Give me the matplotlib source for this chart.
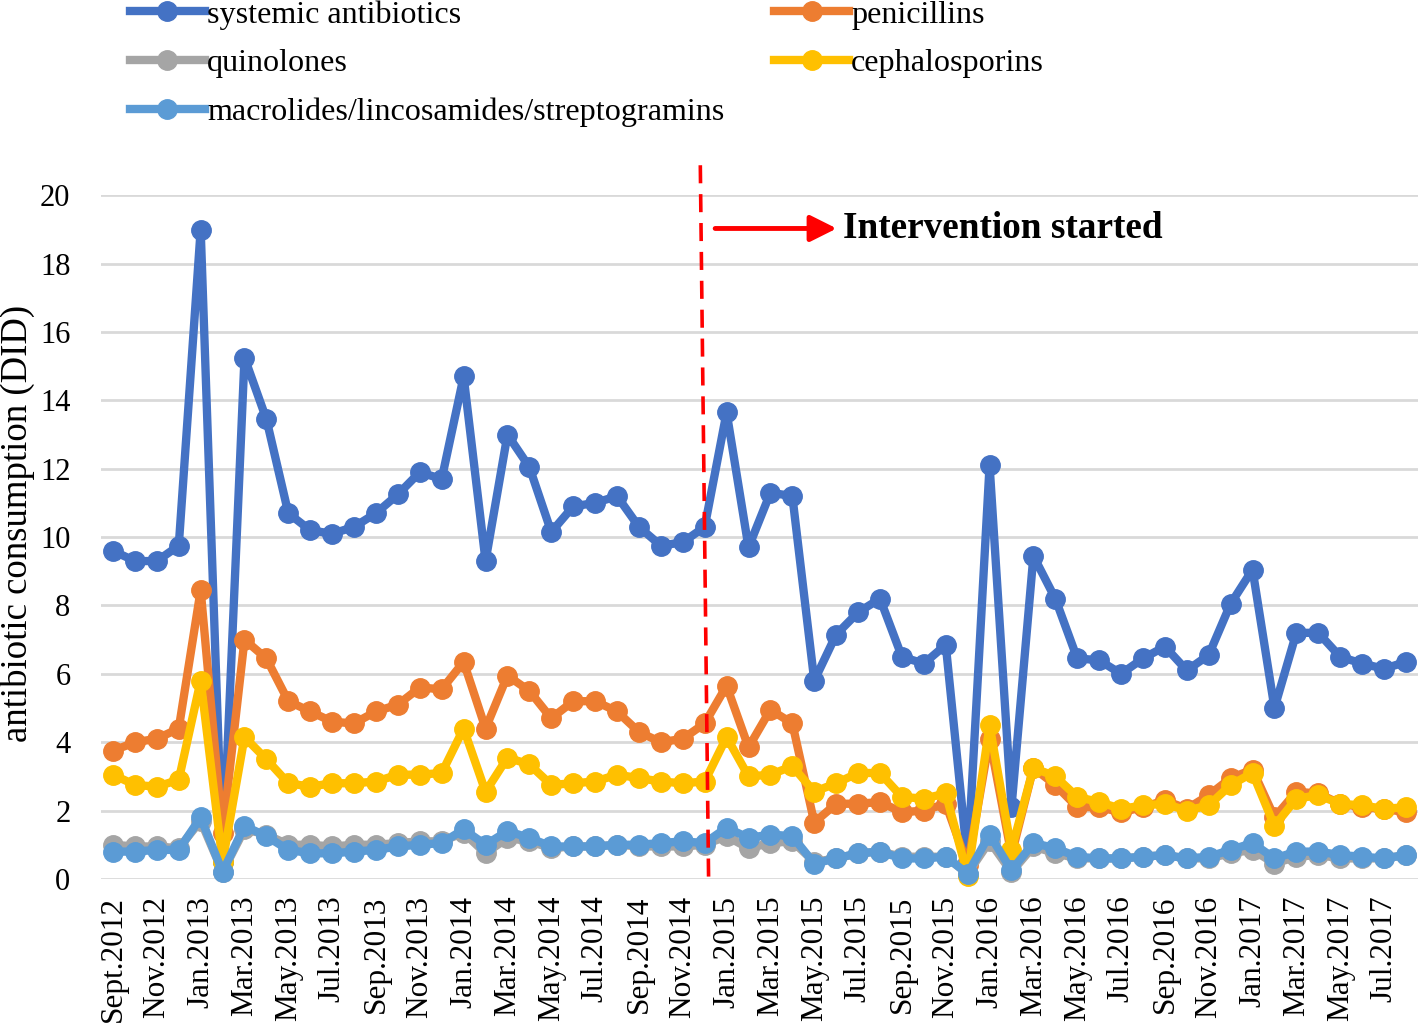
import matplotlib.pyplot as plt
import numpy as np

plt.rcParams['font.family'] = ['Liberation Serif', 'DejaVu Serif']

months = ['Sept.2012', 'Oct.2012', 'Nov.2012', 'Dec.2012',
          'Jan.2013', 'Feb.2013', 'Mar.2013', 'Apr.2013', 'May.2013', 'Jun.2013',
          'Jul.2013', 'Aug.2013', 'Sep.2013', 'Oct.2013', 'Nov.2013', 'Dec.2013',
          'Jan.2014', 'Feb.2014', 'Mar.2014', 'Apr.2014', 'May.2014', 'Jun.2014',
          'Jul.2014', 'Aug.2014', 'Sep.2014', 'Oct.2014', 'Nov.2014', 'Dec.2014',
          'Jan.2015', 'Feb.2015', 'Mar.2015', 'Apr.2015', 'May.2015', 'Jun.2015',
          'Jul.2015', 'Aug.2015', 'Sep.2015', 'Oct.2015', 'Nov.2015', 'Dec.2015',
          'Jan.2016', 'Feb.2016', 'Mar.2016', 'Apr.2016', 'May.2016', 'Jun.2016',
          'Jul.2016', 'Aug.2016', 'Sep.2016', 'Oct.2016', 'Nov.2016', 'Dec.2016',
          'Jan.2017', 'Feb.2017', 'Mar.2017', 'Apr.2017', 'May.2017', 'Jun.2017',
          'Jul.2017', 'Aug.2017']

systemic = [9.6, 9.3, 9.3, 9.75, 19.0, 0.5, 15.25, 13.45, 10.7, 10.2,
            10.1, 10.3, 10.7, 11.25, 11.9, 11.7, 14.7, 9.3, 13.0, 12.05,
            10.15, 10.9, 11.0, 11.2, 10.3, 9.75, 9.85, 10.3, 13.65, 9.7,
            11.3, 11.2, 5.8, 7.15, 7.8, 8.2, 6.5, 6.3, 6.85, 0.5,
            12.1, 2.1, 9.45, 8.2, 6.45, 6.4, 6.0, 6.45, 6.8, 6.1,
            6.55, 8.05, 9.05, 5.0, 7.2, 7.2, 6.5, 6.3, 6.15, 6.35]

penicillins = [3.75, 4.0, 4.1, 4.4, 8.45, 1.35, 7.0, 6.45, 5.2, 4.9,
               4.6, 4.55, 4.9, 5.1, 5.6, 5.55, 6.35, 4.4, 5.95, 5.5,
               4.7, 5.2, 5.2, 4.9, 4.3, 4.0, 4.1, 4.55, 5.65, 3.85,
               4.95, 4.55, 1.65, 2.2, 2.2, 2.25, 1.95, 2.0, 2.2, 0.4,
               4.1, 0.7, 3.25, 2.75, 2.1, 2.1, 1.95, 2.1, 2.3, 2.05,
               2.45, 2.95, 3.2, 1.8, 2.55, 2.5, 2.2, 2.1, 2.05, 1.95]

quinolones = [1.0, 0.95, 0.95, 0.9, 1.7, 0.2, 1.45, 1.3, 1.0, 1.0,
              0.95, 1.0, 1.0, 1.05, 1.1, 1.1, 1.35, 0.75, 1.2, 1.1,
              0.9, 0.95, 0.95, 1.0, 0.95, 0.95, 0.95, 1.0, 1.25, 0.9,
              1.05, 1.1, 0.5, 0.6, 0.75, 0.8, 0.65, 0.65, 0.65, 0.15,
              1.1, 0.2, 0.95, 0.75, 0.6, 0.6, 0.6, 0.65, 0.7, 0.6,
              0.6, 0.75, 0.85, 0.45, 0.65, 0.7, 0.6, 0.6, 0.6, 0.7]

cephalosporins = [3.05, 2.75, 2.7, 2.9, 5.8, 0.5, 4.15, 3.5, 2.8, 2.7,
                  2.8, 2.8, 2.85, 3.05, 3.05, 3.1, 4.4, 2.55, 3.55, 3.35,
                  2.75, 2.8, 2.85, 3.05, 2.95, 2.85, 2.8, 2.85, 4.15, 3.0,
                  3.05, 3.3, 2.55, 2.8, 3.1, 3.1, 2.4, 2.35, 2.5, 0.1,
                  4.5, 0.85, 3.25, 3.0, 2.4, 2.25, 2.05, 2.15, 2.2, 2.0,
                  2.15, 2.75, 3.1, 1.55, 2.35, 2.45, 2.2, 2.15, 2.05, 2.1]

macrolides = [0.8, 0.8, 0.85, 0.85, 1.8, 0.2, 1.55, 1.25, 0.85, 0.75,
              0.75, 0.8, 0.85, 0.95, 1.0, 1.05, 1.45, 1.0, 1.4, 1.2,
              0.95, 0.95, 0.95, 1.0, 1.0, 1.05, 1.1, 1.05, 1.5, 1.2,
              1.3, 1.25, 0.45, 0.6, 0.75, 0.8, 0.6, 0.6, 0.65, 0.15,
              1.3, 0.25, 1.05, 0.9, 0.65, 0.6, 0.6, 0.65, 0.7, 0.6,
              0.65, 0.85, 1.05, 0.6, 0.8, 0.8, 0.7, 0.65, 0.6, 0.7]

series = [
    ('systemic antibiotics', systemic, '#4472C4'),
    ('penicillins', penicillins, '#ED7D31'),
    ('quinolones', quinolones, '#A5A5A5'),
    ('cephalosporins', cephalosporins, '#FFC000'),
    ('macrolides/lincosamides/streptogramins', macrolides, '#5B9BD5'),
]

fig = plt.figure(figsize=(14.18, 10.28), dpi=100)
ax = fig.add_axes([0.0712, 0.145, 0.9288, 0.665])

x = np.arange(len(months))
lines = {}
for name, vals, col in series:
    lines[name], = ax.plot(x, vals, color=col, lw=6, marker='o', ms=14,
                           label=name, clip_on=False)

ax.set_xlim(-0.55, len(months) - 0.45)
ax.set_ylim(0, 20)
ax.set_yticks(np.arange(0, 21, 2))
ax.set_xticks(x[::2])
ax.set_xticklabels(months[::2], rotation=90, fontsize=22.5)
ax.tick_params(axis='y', labelsize=22, length=0, pad=22)
ax.tick_params(axis='x', length=0, pad=12)
ax.grid(axis='y', color='#d9d9d9', lw=2)
ax.set_axisbelow(True)
for s in ax.spines.values():
    s.set_visible(False)
ax.set_ylabel('antibiotic consumption (DID)', fontsize=26.5)
ax.yaxis.set_label_coords(-0.050, 0.52)

# intervention marker
ax.plot([26.8, 27.18], [20.88, -0.12], color='red', lw=2.6,
        dashes=(5, 3), clip_on=False)
ax.annotate('', xy=(33.15, 19.03), xytext=(27.35, 19.03),
            arrowprops=dict(arrowstyle='-|>', color='red', lw=3.5,
                            mutation_scale=40))
ax.text(33.3, 19.03, 'Intervention started', fontsize=26.8, fontweight='bold',
        va='center', ha='left')

order = ['systemic antibiotics', 'quinolones',
         'macrolides/lincosamides/streptogramins', 'penicillins', 'cephalosporins']
fig.legend([lines[n] for n in order], order, ncol=2, loc='upper left',
           bbox_to_anchor=(0.071, 1.028), frameon=False, fontsize=23.1,
           handlelength=2.35, handletextpad=0.06, columnspacing=1.55,
           labelspacing=0.6)

fig.savefig('out.png', dpi=100)
